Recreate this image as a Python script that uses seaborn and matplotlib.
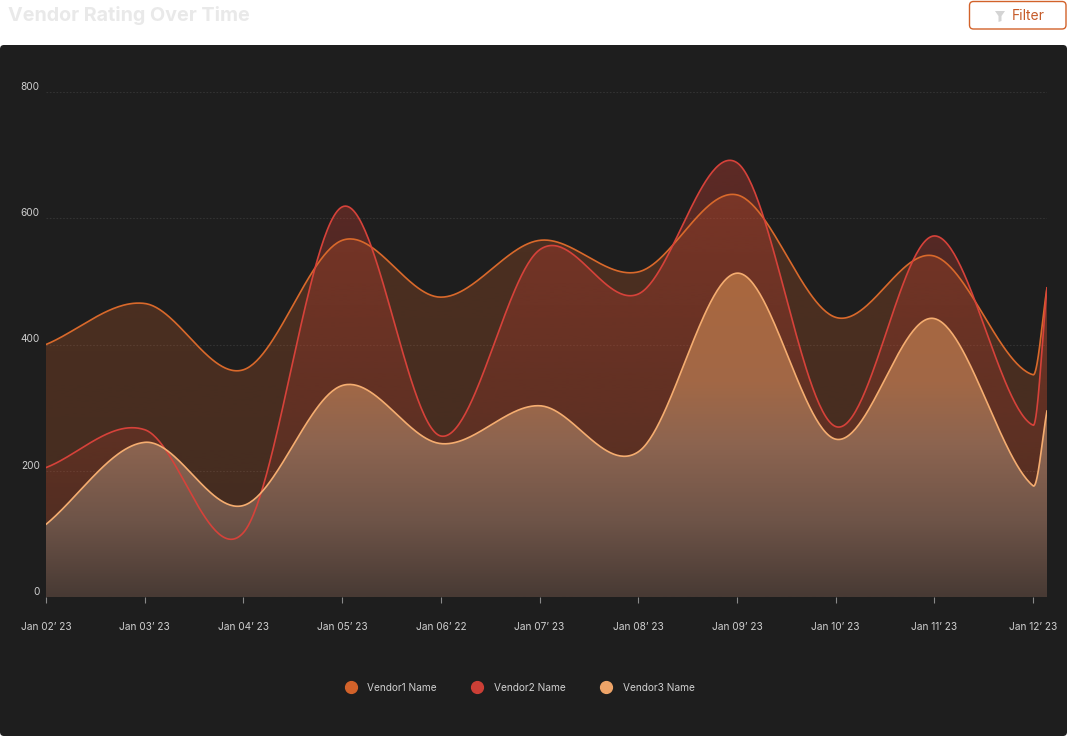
import numpy as np
import pandas as pd
import seaborn as sns
import matplotlib.pyplot as plt
from matplotlib.patches import FancyBboxPatch, Polygon
from matplotlib.lines import Line2D

# data
days = [0, 1, 2, 3, 4, 5, 6, 7, 8, 9, 10, 10.14]
tick_labels = ["Jan 02’ 23", "Jan 03’ 23", "Jan 04’ 23", "Jan 05’ 23", "Jan 06’ 22",
               "Jan 07’ 23", "Jan 08’ 23", "Jan 09’ 23", "Jan 10’ 23", "Jan 11’ 23", "Jan 12’ 23"]
vendor1 = [400, 465, 360, 565, 475, 565, 515, 637, 443, 540, 352, 490]
vendor2 = [205, 265, 102, 618, 255, 550, 480, 688, 270, 572, 272, 490]
vendor3 = [115, 245, 145, 335, 243, 303, 230, 513, 250, 441, 176, 295]
names = ["Vendor1 Name", "Vendor2 Name", "Vendor3 Name"]
line_colors = ["#d9692b", "#d6423a", "#f5ad70"]
dot_colors = ["#d2622a", "#cc3f36", "#eea468"]

BG = "#1e1e1e"
W, H = 1068, 736


def smooth(xs, ys, n=60):
    # cubic hermite with catmull-rom tangents, like the "smooth" curve of the original
    xs = np.asarray(xs, float)
    ys = np.asarray(ys, float)
    m = np.zeros_like(ys)
    m[0] = (ys[1] - ys[0]) / (xs[1] - xs[0])
    m[-1] = (ys[-1] - ys[-2]) / (xs[-1] - xs[-2])
    m[1:-1] = (ys[2:] - ys[:-2]) / (xs[2:] - xs[:-2])
    out_x, out_y = [], []
    for i in range(len(xs) - 1):
        h = xs[i + 1] - xs[i]
        t = np.linspace(0, 1, n, endpoint=(i == len(xs) - 2))
        h00 = 2 * t**3 - 3 * t**2 + 1
        h10 = t**3 - 2 * t**2 + t
        h01 = -2 * t**3 + 3 * t**2
        h11 = t**3 - t**2
        out_x.append(xs[i] + t * h)
        out_y.append(h00 * ys[i] + h10 * h * m[i] + h01 * ys[i + 1] + h11 * h * m[i + 1])
    return np.concatenate(out_x), np.concatenate(out_y)


frames = []
for name, vals in zip(names, [vendor1, vendor2, vendor3]):
    sx, sy = smooth(days, vals)
    frames.append(pd.DataFrame({"x": sx, "value": sy, "vendor": name}))
curves = pd.concat(frames, ignore_index=True)

sns.set_style("dark")
plt.rcParams["font.family"] = ["Inter", "DejaVu Sans"]

fig = plt.figure(figsize=(W / 100, H / 100), dpi=100, facecolor="white")


def px_box(x0, y0, x1, y1, **kw):
    # box given in pixel coords from the top-left corner
    return FancyBboxPatch((x0 / 100, (H - y1) / 100), (x1 - x0) / 100, (y1 - y0) / 100,
                          transform=fig.dpi_scale_trans, **kw)


fig.patches.append(px_box(0, 45, 1067, 736, boxstyle="round,pad=0,rounding_size=0.04",
                          facecolor=BG, edgecolor="none", zorder=-5))
fig.patches.append(px_box(969.5, 1.5, 1066, 29, boxstyle="round,pad=0,rounding_size=0.04",
                          facecolor="white", edgecolor="#d2622a", linewidth=1, zorder=-5))
funnel = [(995, 11), (1005, 11), (1001.5, 16), (1001.5, 21), (998.5, 22), (998.5, 16)]
fig.patches.append(Polygon([(x / 100, (H - y) / 100) for x, y in funnel], closed=True,
                           transform=fig.dpi_scale_trans, facecolor="#d4d4d4",
                           edgecolor="none", zorder=-4))
fig.text(1012 / W, 1 - 16.5 / H, "Filter", color="#c65a28", fontsize=10, va="center", ha="left")
fig.text(8 / W, 1 - 15.5 / H, "Vendor Rating Over Time", color="#e9e9e9", fontsize=14.2,
         fontweight="bold", va="center", ha="left")

ax = fig.add_axes([46 / W, (H - 597) / H, (1047 - 46) / W, (597 - 92) / H])
ax.set_facecolor("none")
xmax = days[-1]
ax.set_xlim(0, xmax)
ax.set_ylim(0, 800)

# gradient area fills, clipped to each series' area
vals_axis = np.linspace(0, 800, 400)


def gradient_rgba(rgb, alpha):
    img = np.zeros((len(vals_axis), 1, 4))
    img[:, 0, :3] = np.asarray(rgb) / 255
    img[:, 0, 3] = alpha
    return img


grad1 = gradient_rgba((212, 98, 42), np.interp(vals_axis, [0, 800], [0.21, 0.27]))
grad2 = gradient_rgba((214, 66, 52), np.clip(0.05 + 0.3 * vals_axis / 690, 0, 0.36))
stops_v = [0, 120, 240, 340, 520, 800]
stops_c = np.array([(72, 58, 52), (110, 84, 72), (140, 100, 80), (162, 104, 70),
                    (170, 103, 62), (170, 103, 62)]) / 255
grad3 = np.ones((len(vals_axis), 1, 4))
for k in range(3):
    grad3[:, 0, k] = np.interp(vals_axis, stops_v, stops_c[:, k])

for name, grad in zip(names, [grad1, grad2, grad3]):
    c = curves[curves["vendor"] == name]
    poly = ax.fill_between(c["x"], c["value"], 0, facecolor="none", edgecolor="none")
    im = ax.imshow(grad, extent=(0, xmax, 0, 800), origin="lower", aspect="auto",
                   interpolation="bilinear", zorder=1)
    im.set_clip_path(poly.get_paths()[0], ax.transData)

sns.lineplot(data=curves, x="x", y="value", hue="vendor", palette=line_colors,
             estimator=None, sort=False, linewidth=1.2, legend=False, ax=ax, zorder=3)

ax.set_xlim(0, xmax)
ax.set_ylim(0, 800)
ax.set_xticks(range(len(tick_labels)))
ax.set_xticklabels(tick_labels)
ax.set_yticks([0, 200, 400, 600, 800])
ax.set_xlabel("")
ax.set_ylabel("")
for s in ax.spines.values():
    s.set_visible(False)
ax.grid(False)
for v in [200, 400, 600, 800]:
    ax.axhline(v, color="#333333", linewidth=0.8, linestyle=(0, (1.5, 1.5)), zorder=0.5)
ax.tick_params(axis="x", colors="#8a8a8a", length=4.5, width=0.8, pad=13.3,
               labelcolor="#cfcfcf", labelsize=7.3, bottom=True)
ax.tick_params(axis="y", length=0, pad=4.5, labelcolor="#cfcfcf", labelsize=7.3, left=True)
for lab in ax.get_yticklabels():
    lab.set_verticalalignment("bottom")

handles = [Line2D([], [], marker="o", linestyle="", markersize=8.5, markerfacecolor=c,
                  markeredgecolor=c) for c in dot_colors]
fig.legend(handles, names, loc="center", bbox_to_anchor=(520 / W, 1 - 688 / H), ncol=3,
           frameon=False, fontsize=7.3, labelcolor="#cfcfcf", handlelength=1.0,
           handletextpad=1.1, columnspacing=3.55)

fig.savefig("out.png", dpi=100, facecolor="white")
